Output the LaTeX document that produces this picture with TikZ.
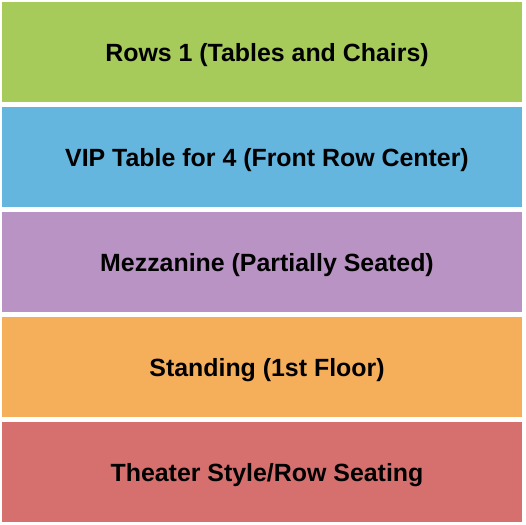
\documentclass[tikz,border=0pt]{standalone}
\usepackage{fontspec}
\setmainfont{Liberation Sans}
\definecolor{rowgreen}{HTML}{A6CB5A}
\definecolor{vipblue}{HTML}{64B6DE}
\definecolor{mezzpurple}{HTML}{B993C4}
\definecolor{standorange}{HTML}{F5AF5B}
\definecolor{theaterred}{HTML}{D5706F}
\tikzset{
  section/.style={rectangle, inner sep=0pt, minimum width=520bp, minimum height=100bp},
  seclabel/.style={inner sep=0pt, font=\fontsize{25}{30}\selectfont\bfseries, text=black}}

\begin{document}
\begin{tikzpicture}[x=1bp, y=-1bp]
  \useasboundingbox (0,0) rectangle (525,525);
  \node[section, fill=rowgreen] (rows) at(262,52){};
  \node[section, fill=vipblue] (vip) at(262,157){};
  \node[section, fill=mezzpurple] (mezz) at(262,262){};
  \node[section, fill=standorange] (stand) at(262,367){};
  \node[section, fill=theaterred] (theater) at(262,472){};
  \node[seclabel] (rows label) at([shift={(5,3)}]rows.center){Rows 1 (Tables and Chairs)};
  \node[seclabel] (vip label) at([shift={(5,3)}]vip.center){VIP Table for 4 (Front Row Center)};
  \node[seclabel] (mezz label) at([shift={(5,3)}]mezz.center){Mezzanine (Partially Seated)};
  \node[seclabel] (stand label) at([shift={(5,3)}]stand.center){Standing (1st Floor)};
  \node[seclabel] (theater label) at([shift={(5,3)}]theater.center){Theater Style/Row Seating};
\end{tikzpicture}
\end{document}
